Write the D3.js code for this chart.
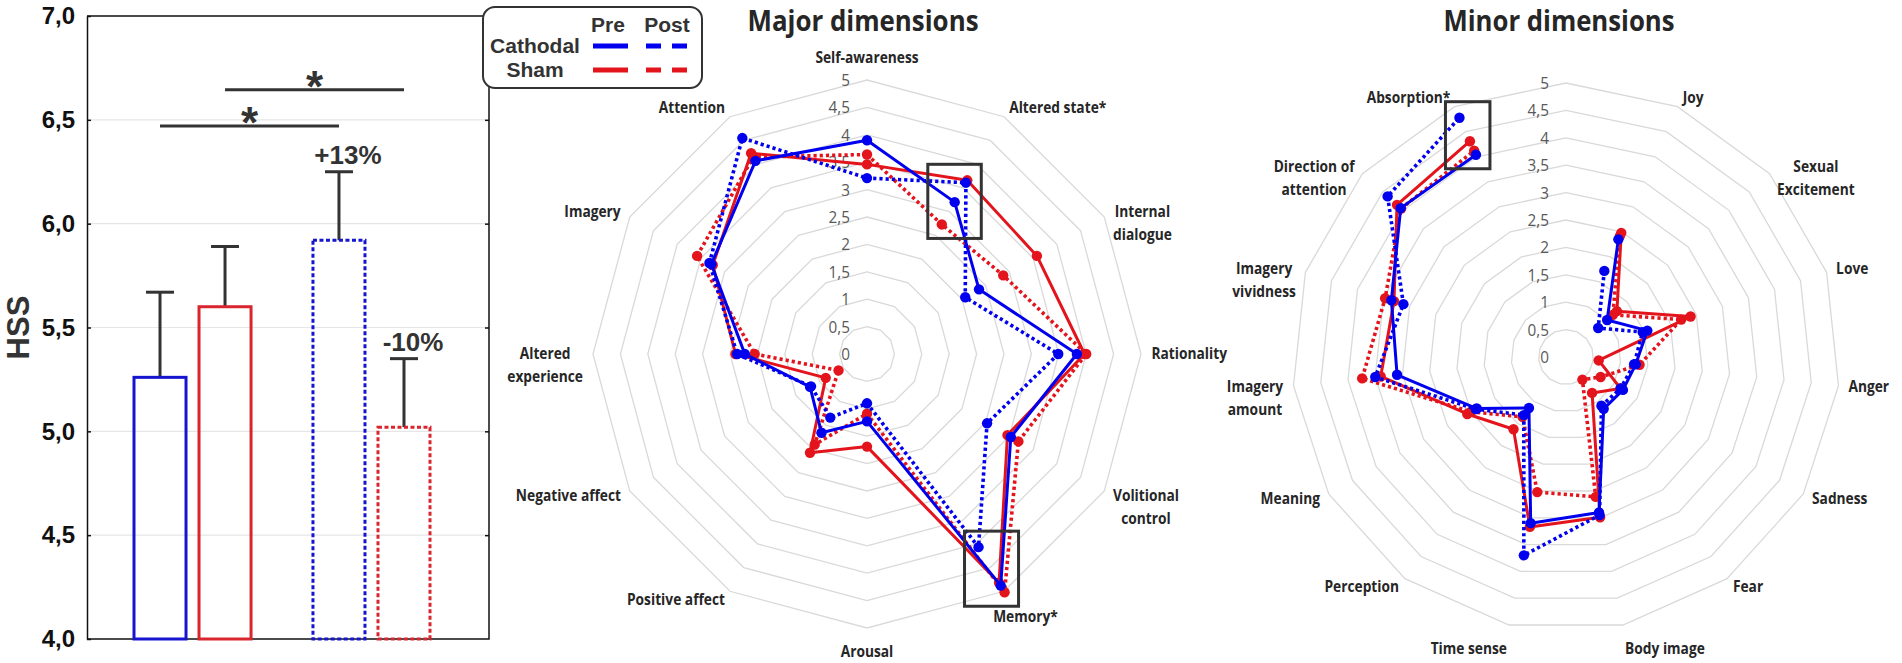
<!DOCTYPE html>
<html lang="en">
<head>
<meta charset="UTF-8">
<title>HSS and hypnotic experience dimensions</title>
<script src="https://d3js.org/d3.v7.min.js"></script>
<style>
  body { margin: 0; background: #fff; }
  svg { display: block; }
  .bar-text { font-family: "Liberation Sans", Arial, sans-serif; font-weight: bold; fill: #333; }
  .radar-label { font-family: "Open Sans", sans-serif; font-weight: bold; font-size: 16px; fill: #262626; }
  .ring-label { font-family: "Open Sans", sans-serif; font-size: 17px; fill: #595959; }
  .ring { fill: none; stroke: #d9d9d9; stroke-width: 1.3; }
  .title { font-family: "Open Sans", sans-serif; font-weight: bold; font-size: 28px; fill: #262626; }
</style>
</head>
<body>
<script>
  // ---------- HSS bar chart data ----------
  const barSession = ['Pre', 'Pre', 'Post', 'Post'];
  const barGroup = ['Cathodal', 'Sham', 'Cathodal', 'Sham'];
  const hssMean = [5.26, 5.60, 5.92, 5.02];
  const hssErr = [0.41, 0.29, 0.33, 0.33];
  const changeLabel = ['', '', '+13%', '-10%'];
  const hssTicks = [4.0, 4.5, 5.0, 5.5, 6.0, 6.5, 7.0];
  // significance bars: [from bar, to bar, level]
  const sigPairs = [[0, 2, 6.47], [1, 3, 6.645]];

  // ---------- Major dimensions ----------
  const majorDims = ['Self-awareness', 'Altered state*', 'Internal\ndialogue', 'Rationality',
    'Volitional\ncontrol', 'Memory*', 'Arousal', 'Positive affect', 'Negative affect',
    'Altered\nexperience', 'Imagery', 'Attention'];
  const majorCathodalPre  = [3.90, 3.20, 2.36, 3.83, 3.03, 4.88, 1.23, 1.66, 1.20, 2.23, 3.28, 4.07];
  const majorCathodalPost = [3.21, 3.61, 2.07, 3.49, 2.53, 4.07, 0.90, 1.34, 1.18, 2.37, 3.32, 4.55];
  const majorShamPre      = [3.46, 3.66, 3.58, 3.97, 2.96, 4.82, 1.69, 2.08, 0.87, 2.40, 3.25, 4.23];
  const majorShamPost     = [3.64, 2.73, 2.87, 4.00, 3.19, 5.02, 1.09, 1.91, 0.60, 2.05, 3.58, 4.15];

  // ---------- Minor dimensions (first category is empty) ----------
  const minorDims = ['', 'Joy', 'Sexual\nExcitement', 'Love', 'Anger', 'Sadness', 'Fear',
    'Body image', 'Time sense', 'Perception', 'Meaning', 'Imagery\namount',
    'Imagery\nvividness', 'Direction of\nattention', 'Absorption*'];
  const minorCathodalPre  = [null, 2.35, 1.01, 1.56, 1.28, 1.20, 1.17, 2.90, 3.10, 1.15, 1.88, 3.10, 3.35, 4.06, 4.04];
  const minorCathodalPost = [null, 1.72, 0.79, 1.47, 1.25, 1.15, 1.10, 2.95, 3.70, 1.31, 1.90, 3.50, 3.12, 4.38, 4.78];
  const minorShamPre      = [null, 2.48, 1.25, 2.39, 0.60, 1.15, 0.81, 2.99, 3.17, 1.63, 2.08, 3.40, 3.30, 4.15, 4.31];
  const minorShamPost     = [null, 2.42, 1.15, 2.21, 1.35, 0.73, 0.51, 2.61, 2.52, 1.35, 2.00, 3.74, 3.47, 4.05, 4.12];

  const ringTicks = [0, 0.5, 1, 1.5, 2, 2.5, 3, 3.5, 4, 4.5, 5];

  const color = { Cathodal: '#0000ee', Sham: '#e3141c' };
  const barColor = { Cathodal: '#1515d0', Sham: '#d9262e' };
  const comma = d => String(d).replace('.', ',');

  const svg = d3.select('body').append('svg')
    .attr('width', 1902)
    .attr('height', 663);

  // ================= Bar chart =================
  const frame = { left: 87, right: 489, top: 16, bottom: 639 };
  const y = d3.scaleLinear().domain([4, 7]).range([frame.bottom, frame.top]);
  const xSession = d3.scaleBand().domain(['Pre', 'Post']).range([134, 430]).paddingInner(0.346);
  const xGroup = d3.scaleBand().domain(['Cathodal', 'Sham']).range([0, xSession.bandwidth()]).paddingInner(0.2);
  const barX = i => xSession(barSession[i]) + xGroup(barGroup[i]);
  const barCx = i => barX(i) + xGroup.bandwidth() / 2;

  // grid lines
  svg.append('g').selectAll('line')
    .data(hssTicks.slice(1, -1))
    .join('line')
    .attr('x1', frame.left).attr('x2', frame.right)
    .attr('y1', d => y(d)).attr('y2', d => y(d))
    .attr('stroke', '#e6e6e6').attr('stroke-width', 1.2);

  const leftAxis = svg.append('g')
    .attr('class', 'bar-text')
    .attr('transform', `translate(${frame.left},0)`)
    .call(d3.axisLeft(y).tickValues(hssTicks).tickSize(-4).tickSizeOuter(0).tickPadding(12)
      .tickFormat(d => d3.format('.1f')(d).replace('.', ',')));
  leftAxis.selectAll('text').attr('font-size', 24).attr('fill', '#111').attr('font-family', '"Liberation Sans", Arial, sans-serif');
  leftAxis.selectAll('line,path').attr('stroke', '#111').attr('stroke-width', 1.5);

  const rightAxis = svg.append('g')
    .attr('transform', `translate(${frame.right},0)`)
    .call(d3.axisRight(y).tickValues(hssTicks.slice(1, -1)).tickSize(-4).tickFormat(''));
  rightAxis.select('.domain').remove();
  rightAxis.selectAll('line').attr('stroke', '#111').attr('stroke-width', 1.5);

  svg.append('path')
    .attr('d', `M${frame.left},${frame.top}H483M489,87V${frame.bottom}H${frame.left}`)
    .attr('fill', 'none').attr('stroke', '#111').attr('stroke-width', 1.5);

  svg.append('text')
    .attr('class', 'bar-text')
    .attr('transform', `translate(18,${(frame.top + frame.bottom) / 2}) rotate(-90)`)
    .attr('text-anchor', 'middle')
    .attr('dominant-baseline', 'central')
    .attr('font-size', 31)
    .attr('fill', '#111')
    .text('HSS');

  // error bars
  const errG = svg.append('g').attr('stroke', '#333').attr('stroke-width', 3);
  hssMean.forEach((m, i) => {
    const cx = barCx(i);
    errG.append('line').attr('x1', cx).attr('x2', cx).attr('y1', y(m)).attr('y2', y(m + hssErr[i]));
    errG.append('line').attr('x1', cx - 14).attr('x2', cx + 14).attr('y1', y(m + hssErr[i])).attr('y2', y(m + hssErr[i]));
  });

  // bars
  svg.append('g').selectAll('rect')
    .data(hssMean)
    .join('rect')
    .attr('x', (d, i) => barX(i))
    .attr('y', d => y(d))
    .attr('width', xGroup.bandwidth())
    .attr('height', d => y(4) - y(d))
    .attr('fill', 'none')
    .attr('stroke', (d, i) => barColor[barGroup[i]])
    .attr('stroke-width', 3)
    .attr('stroke-dasharray', (d, i) => barSession[i] === 'Post' ? '4 2.5' : null);

  // change labels
  svg.append('g').selectAll('text')
    .data(hssMean)
    .join('text')
    .attr('class', 'bar-text')
    .attr('x', (d, i) => barCx(i) + 9)
    .attr('y', (d, i) => y(d + hssErr[i]) - 8)
    .attr('text-anchor', 'middle')
    .attr('font-size', 26)
    .text((d, i) => changeLabel[i]);

  // significance lines
  sigPairs.forEach(([a, b, lvl]) => {
    svg.append('line')
      .attr('x1', barCx(a)).attr('x2', barCx(b))
      .attr('y1', y(lvl)).attr('y2', y(lvl))
      .attr('stroke', '#333').attr('stroke-width', 3);
    svg.append('text')
      .attr('class', 'bar-text')
      .attr('x', (barCx(a) + barCx(b)) / 2)
      .attr('y', y(lvl) + 12)
      .attr('text-anchor', 'middle')
      .attr('font-size', 44)
      .text('*');
  });

  // legend
  const lg = svg.append('g').attr('class', 'bar-text');
  lg.append('rect')
    .attr('x', 483).attr('y', 7).attr('width', 219).attr('height', 81).attr('rx', 12)
    .attr('fill', '#fff').attr('stroke', '#333').attr('stroke-width', 2);
  lg.append('text').attr('x', 608).attr('y', 32).attr('text-anchor', 'middle').attr('font-size', 21).text('Pre');
  lg.append('text').attr('x', 667).attr('y', 32).attr('text-anchor', 'middle').attr('font-size', 21).text('Post');
  ['Cathodal', 'Sham'].forEach((grp, k) => {
    const ly = 46 + k * 24;
    lg.append('text').attr('x', 535).attr('y', ly + 7).attr('text-anchor', 'middle').attr('font-size', 21).text(grp);
    lg.append('line').attr('x1', 593).attr('x2', 628).attr('y1', ly).attr('y2', ly)
      .attr('stroke', color[grp]).attr('stroke-width', 5);
    lg.append('line').attr('x1', 646).attr('x2', 687).attr('y1', ly).attr('y2', ly)
      .attr('stroke', color[grp]).attr('stroke-width', 5).attr('stroke-dasharray', '15 11');
  });

  // ================= Radar charts =================
  const squeeze = 0.86;   // narrows Open Sans toward the original condensed face

  function drawRadar(cfg) {
    const g = svg.append('g').attr('transform', `translate(${cfg.cx},${cfg.cy})`);
    const n = cfg.axes.length;
    const r = d3.scaleLinear().domain([0, 5]).range([0, 274]);
    const angle = d3.scaleLinear().domain([0, n]).range([0, 2 * Math.PI]);

    const ring = d3.lineRadial()
      .angle((d, i) => angle(i))
      .radius(d => r(d))
      .curve(d3.curveLinearClosed);
    g.append('g').selectAll('path')
      .data(ringTicks.slice(1))
      .join('path')
      .attr('class', 'ring')
      .attr('d', t => ring(cfg.axes.map(() => t)));

    g.append('g').selectAll('text')
      .data(ringTicks)
      .join('text')
      .attr('class', 'ring-label')
      .attr('transform', d => `translate(-17,${-r(d) + 6}) scale(0.9,1)`)
      .attr('text-anchor', 'end')
      .text(comma);

    // category labels
    cfg.axes.forEach((name, i) => {
      if (!name) return;
      const a = angle(i);
      const s = Math.sin(a), c = Math.cos(a);
      const [px, py] = d3.pointRadial(a, r(5) + 10);
      const lines = name.split('\n');
      const t = g.append('text').attr('class', 'radar-label').attr('text-anchor', 'middle');
      lines.forEach((ln, k) => t.append('tspan').attr('x', 0).attr('dy', k ? 23 : 0).text(ln));
      const w = t.node().getBBox().width * squeeze;
      let tx = px;
      if (s > 0.05) tx = px + w / 2;
      else if (s < -0.05) tx = px - w / 2;
      let ty = py + 5;
      if (c > 0.95) ty = py - 7;
      else if (c < -0.95) ty = py + 19;
      if (name === 'Memory*') { tx -= 16; ty += 17; }
      t.attr('transform', `translate(${tx},${ty}) scale(${squeeze},1)`);
    });

    // data series
    cfg.series.forEach(sr => {
      const line = d3.lineRadial()
        .defined(d => d != null)
        .angle((d, i) => angle(i))
        .radius(d => r(d))
        .curve(cfg.closed ? d3.curveLinearClosed : d3.curveLinear);
      g.append('path')
        .attr('d', line(sr.values))
        .attr('fill', 'none')
        .attr('stroke', color[sr.group])
        .attr('stroke-width', sr.session === 'Post' ? 3.6 : 3)
        .attr('stroke-dasharray', sr.session === 'Post' ? '3.2 3' : null)
        .attr('stroke-linejoin', 'round');
      g.append('g').selectAll('circle')
        .data(sr.values.map((v, i) => ({ v, i })).filter(d => d.v != null))
        .join('circle')
        .attr('cx', d => d3.pointRadial(angle(d.i), r(d.v))[0])
        .attr('cy', d => d3.pointRadial(angle(d.i), r(d.v))[1])
        .attr('r', 5.2)
        .attr('fill', color[sr.group]);
    });

    // boxes around significant dimensions
    cfg.marked.forEach(name => {
      const i = cfg.axes.indexOf(name);
      const pts = cfg.series.map(sr => d3.pointRadial(angle(i), r(sr.values[i])));
      const [x0, x1] = d3.extent(pts, p => p[0]);
      const [y0, y1] = d3.extent(pts, p => p[1]);
      g.append('rect')
        .attr('x', x0 - 14).attr('y', y0 - 16)
        .attr('width', x1 - x0 + 28).attr('height', y1 - y0 + 30)
        .attr('fill', 'none').attr('stroke', '#333').attr('stroke-width', 3);
    });

    svg.append('text')
      .attr('class', 'title')
      .attr('x', cfg.titleX).attr('y', 31)
      .attr('text-anchor', 'middle')
      .attr('textLength', 231)
      .attr('lengthAdjust', 'spacingAndGlyphs')
      .text(cfg.title);
  }

  drawRadar({
    cx: 867, cy: 354, title: 'Major dimensions', titleX: 863, closed: true,
    axes: majorDims, marked: ['Altered state*', 'Memory*'],
    series: [
      { group: 'Sham', session: 'Post', values: majorShamPost },
      { group: 'Sham', session: 'Pre', values: majorShamPre },
      { group: 'Cathodal', session: 'Post', values: majorCathodalPost },
      { group: 'Cathodal', session: 'Pre', values: majorCathodalPre }
    ]
  });

  drawRadar({
    cx: 1566, cy: 357, title: 'Minor dimensions', titleX: 1559, closed: false,
    axes: minorDims, marked: ['Absorption*'],
    series: [
      { group: 'Sham', session: 'Post', values: minorShamPost },
      { group: 'Sham', session: 'Pre', values: minorShamPre },
      { group: 'Cathodal', session: 'Post', values: minorCathodalPost },
      { group: 'Cathodal', session: 'Pre', values: minorCathodalPre }
    ]
  });
</script>
</body>
</html>
